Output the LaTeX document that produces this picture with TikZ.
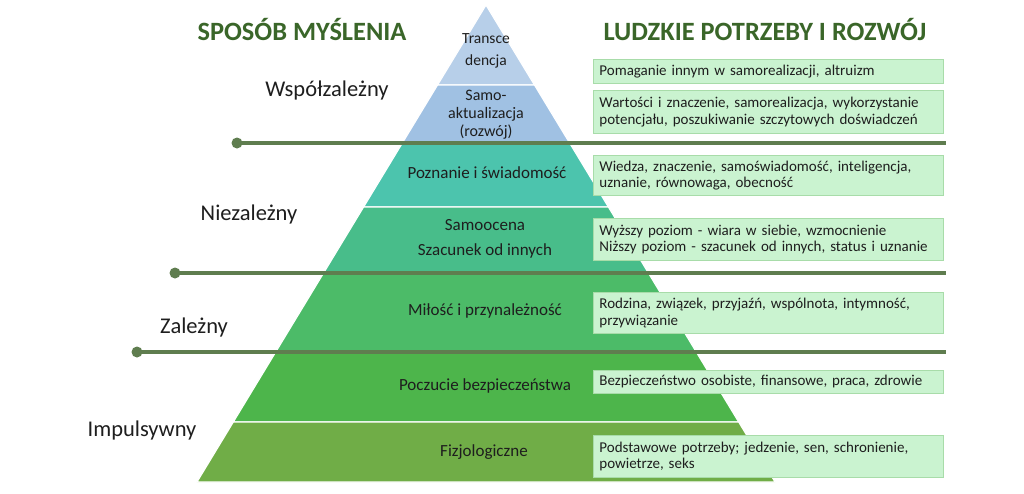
\documentclass[tikz,border=0pt]{standalone}
\usepackage{fontspec}
\setmainfont{Carlito}
\definecolor{cTrans}{HTML}{B7CFE9}
\definecolor{cSamo}{HTML}{A0C1E3}
\definecolor{cPozn}{HTML}{4CC4AD}
\definecolor{cSzac}{HTML}{48BD8A}
\definecolor{cMilo}{HTML}{4CBB68}
\definecolor{cBezp}{HTML}{4DB54B}
\definecolor{cFizj}{HTML}{70AD47}
\definecolor{boxfill}{HTML}{CAF3D0}
\definecolor{boxline}{HTML}{A8DCA9}
\definecolor{divline}{HTML}{5F7D4F}
\definecolor{headgreen}{HTML}{3A6629}
\definecolor{txt}{HTML}{1E1E1E}
\newcommand\pyrband[3]{%
  \fill[#3, draw=white, line width=1.2pt]
    ({486-0.606*(#1-5)},#1) -- ({486+0.606*(#1-5)},#1) --
    ({486+0.606*(#2-5)},#2) -- ({486-0.606*(#2-5)},#2) -- cycle;}
\tikzset{
  heading/.style={font=\fontsize{26.4}{30}\selectfont\bfseries, text=headgreen, inner sep=0pt},
  levellabel/.style={font=\fontsize{22.5}{26}\selectfont, text=txt, inner sep=0pt},
  pyrtext/.style={font=\fontsize{17}{20}\selectfont, text=txt, align=center, inner sep=0pt},
  needbox/.style={anchor=north west, fill=boxfill, draw=boxline, line width=0.8pt,
    minimum width=350pt, text width=338pt, inner xsep=6pt, inner ysep=2pt, align=left,
    font=\fontsize{15}{16.5}\selectfont, text=txt},
  divider/.style={draw=divline, line width=4pt},
  dot/.style={circle, fill=divline, minimum size=11pt, inner sep=0pt},
}
\begin{document}
\begin{tikzpicture}[x=1pt,y=-1pt]
\useasboundingbox[fill=white] (0,0) rectangle (1024,493);
% pyramid bands
\pyrband{5}{85}{cTrans}
\pyrband{85}{143}{cSamo}
\pyrband{143}{207}{cPozn}
\pyrband{207}{273}{cSzac}
\pyrband{273}{352}{cMilo}
\pyrband{352}{422}{cBezp}
\pyrband{422}{482}{cFizj}
% pyramid texts
\node[pyrtext, font=\fontsize{15.5}{22}\selectfont] (trans) at (486,51) {Transce\\dencja};
\node[pyrtext, font=\fontsize{16}{18}\selectfont] (samo) at (486,115) {Samo-\\aktualizacja\\(rozwój)};
\node[pyrtext] (pozn) at (487,173) {Poznanie i świadomość};
\node[pyrtext, font=\fontsize{17}{25}\selectfont] (szac) at (485,239) {Samoocena\\Szacunek od innych};
\node[pyrtext] (milo) at (485,311) {Miłość i przynależność};
\node[pyrtext] (bezp) at (485,386) {Poczucie bezpieczeństwa};
\node[pyrtext] (fizj) at (484,452) {Fizjologiczne};
% headings
\node[heading] (hleft) at (302,30) {SPOSÓB MYŚLENIA};
\node[heading] (hright) at (765,30) {LUDZKIE POTRZEBY I ROZWÓJ};
% level labels
\node[levellabel] (wsp) at (327,90) {Współzależny};
\node[levellabel] (niez) at (249,214) {Niezależny};
\node[levellabel] (zal) at (194,327) {Zależny};
\node[levellabel] (imp) at (142,430) {Impulsywny};
% dividers
\coordinate (d1a) at (237,143); \coordinate (d1b) at (946,143);
\coordinate (d2a) at (175,273); \coordinate (d2b) at (946,273);
\coordinate (d3a) at (137,352); \coordinate (d3b) at (946,352);
\draw[divider] (d1a) -- (d1b);
\draw[divider] (d2a) -- (d2b);
\draw[divider] (d3a) -- (d3b);
\node[dot] (p1) at (d1a) {};
\node[dot] (p2) at (d2a) {};
\node[dot] (p3) at (d3a) {};
% need boxes
\node[needbox, minimum height=24pt] (b1) at (593,59) {Pomaganie innym w samorealizacji, altruizm};
\node[needbox, minimum height=43pt] (b2) at (593,90) {Wartości i znaczenie, samorealizacja, wykorzystanie\\potencjału, poszukiwanie szczytowych doświadczeń};
\node[needbox, minimum height=40pt] (b3) at (593,155) {Wiedza, znaczenie, samoświadomość, inteligencja,\\uznanie, równowaga, obecność};
\node[needbox, minimum height=42pt] (b4) at (593,218) {Wyższy poziom - wiara w siebie, wzmocnienie\\Niższy poziom - szacunek od innych, status i uznanie};
\node[needbox, minimum height=41pt] (b5) at (593,292) {Rodzina, związek, przyjaźń, wspólnota, intymność,\\przywiązanie};
\node[needbox, minimum height=23pt] (b6) at (593,370) {Bezpieczeństwo osobiste, finansowe, praca, zdrowie};
\node[needbox, minimum height=42pt] (b7) at (593,435) {Podstawowe potrzeby; jedzenie, sen, schronienie,\\powietrze, seks};
\end{tikzpicture}
\end{document}
